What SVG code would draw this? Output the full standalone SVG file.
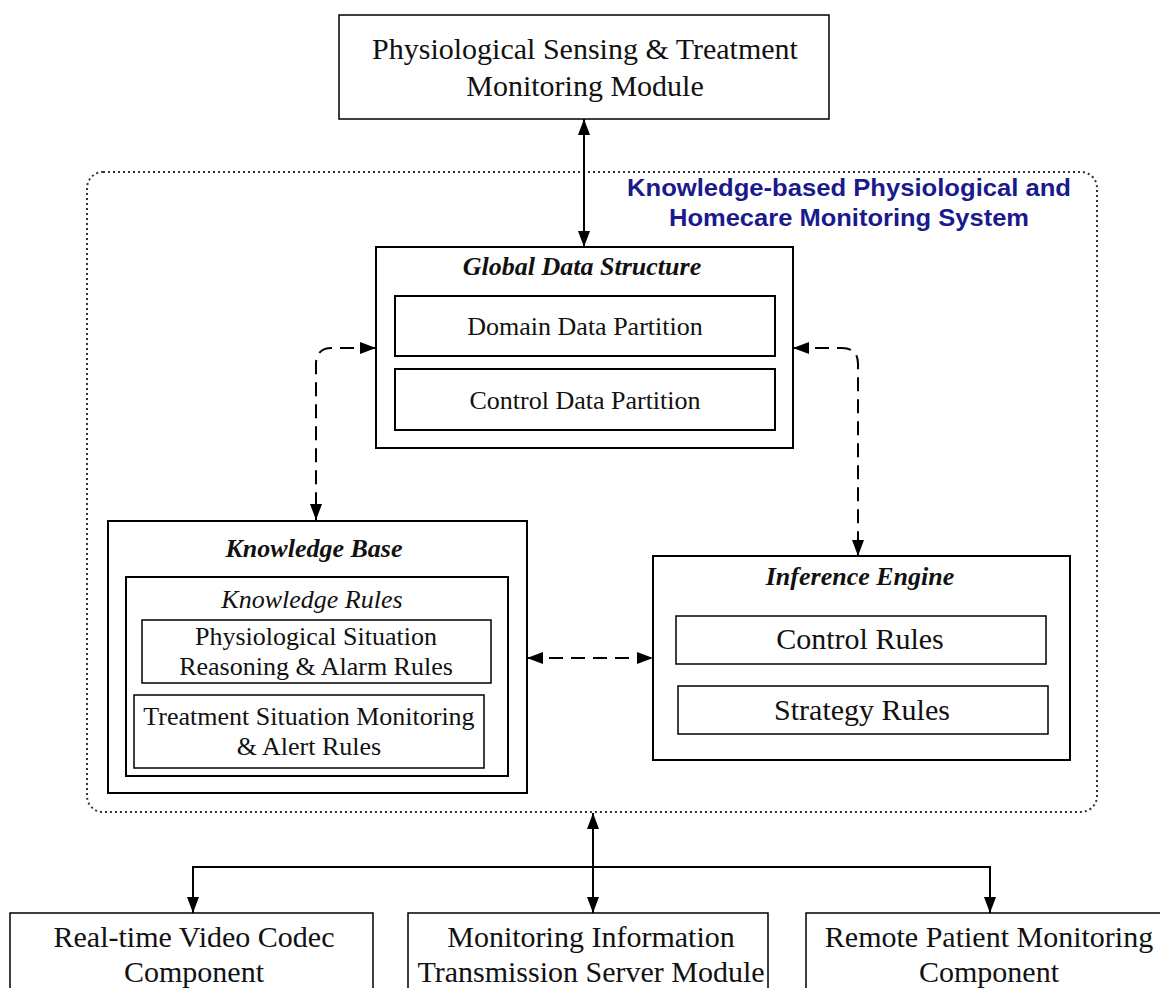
<svg xmlns="http://www.w3.org/2000/svg" width="1160" height="988" viewBox="0 0 1160 988">
<style>
.box{fill:#fff;stroke:#000;stroke-width:2}
.thin{fill:#fff;stroke:#000;stroke-width:1.5}
.t{font-family:"Liberation Serif","Times New Roman",serif;fill:#111;text-anchor:middle}
.title{font-family:"Liberation Serif","Times New Roman",serif;font-weight:bold;font-style:italic;fill:#111;text-anchor:middle}
.blue{font-family:"Liberation Sans",Arial,sans-serif;font-weight:bold;fill:#1a1a8c;text-anchor:middle}
.solid{fill:none;stroke:#000;stroke-width:2}
.dash{fill:none;stroke:#000;stroke-width:2;stroke-dasharray:14 8}
</style>
<defs>
<marker id="ah" viewBox="0 0 16 12" refX="16" refY="6" markerWidth="16" markerHeight="12" markerUnits="userSpaceOnUse" orient="auto-start-reverse">
<path d="M0,0 L16,6 L0,12 Z" fill="#000"/>
</marker>
</defs>
<rect x="0" y="0" width="1160" height="988" fill="#fff"/>

<g id="system">
<rect x="87" y="172" width="1010" height="640" rx="16" fill="none" stroke="#333" stroke-width="2" stroke-dasharray="2 3"/>
<text class="blue" x="849" y="196" font-size="24" textLength="444" lengthAdjust="spacingAndGlyphs">Knowledge-based Physiological and</text>
<text class="blue" x="849" y="226" font-size="24" textLength="360" lengthAdjust="spacingAndGlyphs">Homecare Monitoring System</text>
</g>

<g id="sensing">
<rect class="thin" x="339" y="15" width="490" height="104"/>
<text class="t" x="585" y="59" font-size="30">Physiological Sensing &amp; Treatment</text>
<text class="t" x="585" y="96" font-size="30">Monitoring Module</text>
</g>

<g id="gds">
<rect class="box" x="376" y="247" width="417" height="201"/>
<text class="title" x="582" y="275" font-size="26">Global Data Structure</text>
<rect class="box" x="395" y="296" width="380" height="60"/>
<text class="t" x="585" y="335" font-size="26">Domain Data Partition</text>
<rect class="box" x="395" y="369" width="380" height="61"/>
<text class="t" x="585" y="409" font-size="26">Control Data Partition</text>
</g>

<g id="kb">
<rect class="box" x="108" y="521" width="419" height="272"/>
<text class="title" x="314" y="557" font-size="26">Knowledge Base</text>
<rect class="box" x="126" y="577" width="382" height="199"/>
<text class="t" x="312" y="608" font-size="26" font-style="italic">Knowledge Rules</text>
<rect class="thin" x="142" y="620" width="349" height="63"/>
<text class="t" x="316" y="645" font-size="26">Physiological Situation</text>
<text class="t" x="316" y="675" font-size="26">Reasoning &amp; Alarm Rules</text>
<rect class="thin" x="134" y="695" width="350" height="73"/>
<text class="t" x="309" y="725" font-size="26">Treatment Situation Monitoring</text>
<text class="t" x="309" y="755" font-size="26">&amp; Alert Rules</text>
</g>

<g id="ie">
<rect class="box" x="653" y="556" width="417" height="204"/>
<text class="title" x="860" y="585" font-size="26">Inference Engine</text>
<rect class="thin" x="676" y="616" width="370" height="48"/>
<text class="t" x="860" y="649" font-size="30">Control Rules</text>
<rect class="thin" x="678" y="686" width="370" height="48"/>
<text class="t" x="862" y="720" font-size="30">Strategy Rules</text>
</g>

<g id="video">
<rect class="thin" x="10" y="913" width="363" height="90"/>
<text class="t" x="194" y="947" font-size="30">Real-time Video Codec</text>
<text class="t" x="194" y="982" font-size="30">Component</text>
</g>
<g id="transmission">
<rect class="thin" x="408" y="913" width="360" height="90"/>
<text class="t" x="591" y="947" font-size="30">Monitoring Information</text>
<text class="t" x="591" y="982" font-size="30">Transmission Server Module</text>
</g>
<g id="remote">
<rect class="thin" x="806" y="913" width="370" height="90"/>
<text class="t" x="989" y="947" font-size="30">Remote Patient Monitoring</text>
<text class="t" x="989" y="982" font-size="30">Component</text>
</g>

<g id="connectors">
<path class="solid" d="M584,119 L584,247" marker-start="url(#ah)" marker-end="url(#ah)"/>
<path class="dash" d="M376,348 L332,348 Q316,348 316,364 L316,520" marker-start="url(#ah)" marker-end="url(#ah)"/>
<path class="dash" d="M793,348 L842,348 Q858,348 858,364 L858,556" marker-start="url(#ah)" marker-end="url(#ah)"/>
<path class="dash" d="M527,658 L653,658" marker-start="url(#ah)" marker-end="url(#ah)"/>
<path class="solid" d="M593,813 L593,913" marker-start="url(#ah)" marker-end="url(#ah)"/>
<path class="solid" d="M193,913 L193,867 L990,867 L990,913" marker-start="url(#ah)" marker-end="url(#ah)"/>
</g>
</svg>
